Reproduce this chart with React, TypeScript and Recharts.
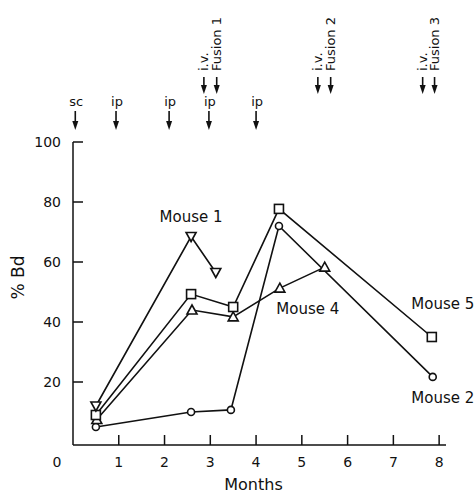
import React from "react";
import { LineChart, Line, XAxis, YAxis, ReferenceDot } from "recharts";

// values (months after first injection, % Bd)
const mouse1Months = [0.5, 2.58, 3.12];
const mouse1Bd = [12, 68.5, 56.5];

const mouse2Months = [0.5, 2.58, 3.45, 4.5, 7.86];
const mouse2Bd = [5, 10, 10.7, 72, 21.7];

const mouse4Months = [0.52, 2.6, 3.5, 4.52, 5.5];
const mouse4Bd = [7.5, 44, 41.7, 51.3, 58.3];

const mouse5Months = [0.5, 2.58, 3.5, 4.5, 7.84];
const mouse5Bd = [9, 49.3, 45, 77.7, 35];

const monthTicks = [0, 1, 2, 3, 4, 5, 6, 7, 8];
const bdTicks = [20, 40, 60, 80, 100];

// injections marked with arrows above the plot
const injectionMonths = [0.05, 0.94, 2.1, 2.97, 4.0];
const injectionLabels = ["sc", "ip", "ip", "ip", "ip"];
const boostMonths = [2.86, 3.14, 5.35, 5.63, 7.64, 7.9];
const boostLabels = ["i.v.", "Fusion 1", "i.v.", "Fusion 2", "i.v.", "Fusion 3"];

const mouseNames = ["Mouse 1", "Mouse 4", "Mouse 5", "Mouse 2"];
const mouseNameMonths = [2.58, 5.13, 8.08, 8.08];
const mouseNameBd = [73.3, 42.7, 44.3, 13];

const INK = "#111";
const FONT = "'DejaVu Sans', sans-serif";

const toPoints = (months: number[], values: number[]) =>
  months.map((m, i) => ({ month: m, bd: values[i] }));

type Kind = "down" | "up" | "square" | "circle";

const marker = (kind: Kind) => (props: any) => {
  const { cx, cy, index } = props;
  if (cx == null || cy == null) return <g key={index} />;
  const common = { fill: "#fff", stroke: INK, strokeWidth: 1.6 };
  if (kind === "square")
    return <rect key={index} x={cx - 4.5} y={cy - 4.5} width={9} height={9} {...common} />;
  if (kind === "circle") return <circle key={index} cx={cx} cy={cy} r={3.5} {...common} />;
  const pts =
    kind === "down"
      ? `${cx - 5},${cy - 4} ${cx + 5},${cy - 4} ${cx},${cy + 5}`
      : `${cx - 5},${cy + 4} ${cx + 5},${cy + 4} ${cx},${cy - 5}`;
  return <polygon key={index} points={pts} {...common} />;
};

const Arrow = ({ x, tip, len }: { x: number; tip: number; len: number }) => (
  <g>
    <line x1={x} x2={x} y1={tip - len} y2={tip - 7} stroke={INK} strokeWidth={1.6} />
    <polygon points={`${x - 3},${tip - 9} ${x + 3},${tip - 9} ${x},${tip}`} fill={INK} />
  </g>
);

const injectionShape = (label: string) => (p: any) => (
  <g>
    <text x={p.cx + 1} y={p.cy - 36} textAnchor="middle" fontSize={13} fontFamily={FONT} fill={INK}>
      {label}
    </text>
    <Arrow x={p.cx} tip={p.cy - 12} len={19} />
  </g>
);

const boostShape = (label: string) => (p: any) => (
  <g>
    <text
      x={p.cx}
      y={p.cy - 71}
      transform={`rotate(-90 ${p.cx} ${p.cy - 71})`}
      textAnchor="start"
      dominantBaseline="central"
      fontSize={13}
      fontFamily={FONT}
      fill={INK}
    >
      {label}
    </text>
    <Arrow x={p.cx} tip={p.cy - 48} len={17} />
  </g>
);

const nameShape = (label: string) => (p: any) => (
  <text x={p.cx} y={p.cy} textAnchor="middle" fontSize={15} fontFamily={FONT} fill={INK}>
    {label}
  </text>
);

const YTick = (p: any) => (
  <g>
    <text x={p.x} y={p.y} dy="0.36em" textAnchor="end" fontSize={14} fontFamily={FONT} fill={INK}>
      {p.payload.value}
    </text>
    <line x1={p.x + 12} x2={p.x + 22} y1={p.y} y2={p.y} stroke={INK} strokeWidth={1.5} />
  </g>
);

const XTick = (p: any) => {
  const v = p.payload.value;
  return (
    <g>
      <text
        x={v === 0 ? p.x - 16 : p.x}
        y={p.y}
        dy="0.72em"
        textAnchor="middle"
        fontSize={14}
        fontFamily={FONT}
        fill={INK}
      >
        {v}
      </text>
      {v !== 0 && (
        <line x1={p.x} x2={p.x} y1={p.y - 12} y2={p.y - 22} stroke={INK} strokeWidth={1.5} />
      )}
    </g>
  );
};

const MonthsTitle = (p: any) => {
  const vb = p.viewBox;
  return (
    <text x={vb.x + vb.width / 2 - 6} y={vb.y + vb.height - 5} textAnchor="middle" fontSize={16} fontFamily={FONT} fill={INK}>
      Months
    </text>
  );
};

const BdTitle = (p: any) => {
  const vb = p.viewBox;
  const x = 18;
  const y = vb.y + vb.height / 2 - 16;
  return (
    <text
      x={x}
      y={y}
      transform={`rotate(-90 ${x} ${y})`}
      textAnchor="middle"
      dominantBaseline="central"
      fontSize={17}
      fontFamily={FONT}
      fill={INK}
    >
      % Bd
    </text>
  );
};

export default function App() {
  const series: { pts: { month: number; bd: number }[]; kind: Kind }[] = [
    { pts: toPoints(mouse2Months, mouse2Bd), kind: "circle" },
    { pts: toPoints(mouse4Months, mouse4Bd), kind: "up" },
    { pts: toPoints(mouse5Months, mouse5Bd), kind: "square" },
    { pts: toPoints(mouse1Months, mouse1Bd), kind: "down" },
  ];

  return (
    <div style={{ position: "absolute", left: 0, top: 0, background: "#fff" }}>
      <LineChart width={476} height={495} margin={{ top: 142, right: 30, bottom: 0, left: 0 }}>
        <XAxis
          dataKey="month"
          type="number"
          domain={[0, 8.15]}
          ticks={monthTicks}
          allowDataOverflow
          height={50}
          tickSize={0}
          tickMargin={12}
          tick={<XTick />}
          axisLine={{ stroke: INK, strokeWidth: 1.5 }}
          tickLine={false}
          label={<MonthsTitle />}
        />
        <YAxis
          dataKey="bd"
          type="number"
          domain={[-1, 100]}
          ticks={bdTicks}
          allowDataOverflow
          width={73}
          tickSize={0}
          tickMargin={12}
          tick={<YTick />}
          axisLine={{ stroke: INK, strokeWidth: 1.5 }}
          tickLine={false}
          label={<BdTitle />}
        />
        {series.map((s, i) => (
          <Line
            key={i}
            data={s.pts}
            dataKey="bd"
            type="linear"
            stroke={INK}
            strokeWidth={1.6}
            dot={marker(s.kind)}
            activeDot={false}
            isAnimationActive={false}
          />
        ))}
        {injectionMonths.map((m, i) => (
          <ReferenceDot key={`inj${i}`} x={m} y={100} ifOverflow="visible" shape={injectionShape(injectionLabels[i])} />
        ))}
        {boostMonths.map((m, i) => (
          <ReferenceDot key={`bst${i}`} x={m} y={100} ifOverflow="visible" shape={boostShape(boostLabels[i])} />
        ))}
        {mouseNames.map((n, i) => (
          <ReferenceDot
            key={`nm${i}`}
            x={mouseNameMonths[i]}
            y={mouseNameBd[i]}
            ifOverflow="visible"
            shape={nameShape(n)}
          />
        ))}
      </LineChart>
    </div>
  );
}
